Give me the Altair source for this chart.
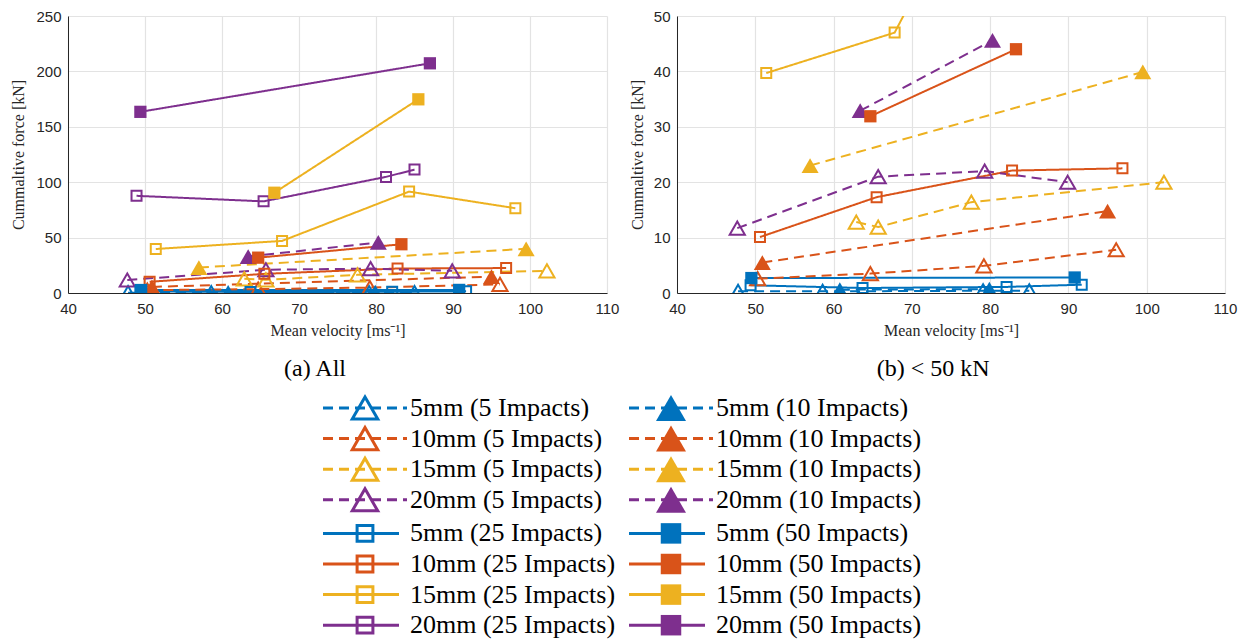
import altair as alt
import pandas as pd

# ---------------- data ----------------
sizes = ["5mm", "10mm", "15mm", "20mm"]
size_colors = ["#0072BD", "#D95319", "#EDB120", "#7E2F8E"]
impacts = ["5", "10", "25", "50"]

# mean velocity [m/s] and cumulative force [kN]
v_5mm_5 = [47.8, 58.6, 79.1, 85.0]
f_5mm_5 = [0.3, 0.3, 0.4, 0.4]
v_5mm_10 = [60.8, 79.9]
f_5mm_10 = [0.6, 0.7]
v_5mm_25 = [49.4, 63.7, 82.1, 91.7]
f_5mm_25 = [1.4, 0.9, 1.1, 1.5]
v_5mm_50 = [49.5, 90.8]
f_5mm_50 = [2.7, 2.8]

v_10mm_5 = [50.3, 64.7, 79.2, 96.1]
f_10mm_5 = [2.6, 3.5, 4.9, 7.8]
v_10mm_10 = [50.9, 95.0]
f_10mm_10 = [5.5, 14.8]
v_10mm_25 = [50.6, 65.5, 82.8, 96.9]
f_10mm_25 = [10.1, 17.3, 22.1, 22.5]
v_10mm_50 = [64.7, 83.3]
f_10mm_50 = [31.9, 44.0]

v_15mm_5 = [62.9, 65.7, 77.6, 102.2]
f_15mm_5 = [12.8, 11.9, 16.4, 20.0]
v_15mm_10 = [57.0, 99.5]
f_15mm_10 = [23.0, 39.9]
v_15mm_25 = [51.4, 67.8, 84.3, 98.1]
f_15mm_25 = [39.7, 47.0, 91.5, 76.5]
v_15mm_50 = [66.8, 85.5]
f_15mm_50 = [90.5, 174.8]

v_20mm_5 = [47.7, 65.7, 79.3, 89.9]
f_20mm_5 = [11.7, 21.0, 22.0, 20.0]
v_20mm_10 = [63.4, 80.3]
f_20mm_10 = [32.9, 45.6]
v_20mm_25 = [48.9, 65.4, 81.3, 85.0]
f_20mm_25 = [87.7, 82.7, 104.8, 111.4]
v_20mm_50 = [49.4, 87.0]
f_20mm_50 = [163.5, 207.3]

series = {
    ("5mm", "5"): (v_5mm_5, f_5mm_5), ("5mm", "10"): (v_5mm_10, f_5mm_10),
    ("5mm", "25"): (v_5mm_25, f_5mm_25), ("5mm", "50"): (v_5mm_50, f_5mm_50),
    ("10mm", "5"): (v_10mm_5, f_10mm_5), ("10mm", "10"): (v_10mm_10, f_10mm_10),
    ("10mm", "25"): (v_10mm_25, f_10mm_25), ("10mm", "50"): (v_10mm_50, f_10mm_50),
    ("15mm", "5"): (v_15mm_5, f_15mm_5), ("15mm", "10"): (v_15mm_10, f_15mm_10),
    ("15mm", "25"): (v_15mm_25, f_15mm_25), ("15mm", "50"): (v_15mm_50, f_15mm_50),
    ("20mm", "5"): (v_20mm_5, f_20mm_5), ("20mm", "10"): (v_20mm_10, f_20mm_10),
    ("20mm", "25"): (v_20mm_25, f_20mm_25), ("20mm", "50"): (v_20mm_50, f_20mm_50),
}

records = []
for (sz, imp), (vs, fs) in series.items():
    for v, f in zip(vs, fs):
        records.append({"size": sz, "impacts": imp, "series": f"{sz}-{imp}",
                        "velocity": v, "force": f})
df = pd.DataFrame(records)

# ---------------- shared encodings ----------------
color_enc = alt.Color("size:N", scale=alt.Scale(domain=sizes, range=size_colors), legend=None)
dash_enc = alt.StrokeDash("impacts:N", scale=alt.Scale(domain=impacts,
                          range=[[10, 6], [10, 6], [1, 0], [1, 0]]), legend=None)

# (impacts group, shape, filled, marker area) for plot and legend markers
marker_specs = [
    ("5", "triangle-up", False),
    ("10", "triangle-up", True),
    ("25", "square", False),
    ("50", "square", True),
]
plot_marker_size = {"5": 230, "10": 290, "25": 100, "50": 150}
legend_marker_size = {"5": 650, "10": 900, "25": 250, "50": 420}


def marker_layers(base, x, y, sizes_map, stroke_w):
    out = []
    for imp, shape, filled in marker_specs:
        m = base.transform_filter(alt.datum.impacts == imp)
        if filled:
            m = m.mark_point(shape=shape, filled=True, opacity=1, size=sizes_map[imp], clip=True)
        else:
            m = m.mark_point(shape=shape, filled=False, opacity=1, size=sizes_map[imp],
                             strokeWidth=stroke_w, clip=True)
        out.append(m.encode(x=x, y=y, color=color_enc))
    return out


def panel(ymax, ystep, width, height, caption, title_pad):
    base = alt.Chart(df)
    x = alt.X("velocity:Q", scale=alt.Scale(domain=[40, 110], nice=False, zero=False),
              axis=alt.Axis(values=list(range(40, 111, 10)), title="Mean velocity [ms⁻¹]",
                            labelPadding=8, titlePadding=6))
    y = alt.Y("force:Q", scale=alt.Scale(domain=[0, ymax], nice=False),
              axis=alt.Axis(values=list(range(0, ymax + 1, ystep)),
                            title="Cummaltive force [kN]", labelPadding=7,
                            titlePadding=title_pad))
    lines = base.mark_line(strokeWidth=2, clip=True).encode(
        x=x, y=y, color=color_enc, strokeDash=dash_enc, detail="series:N", order="velocity:Q")
    layers = [lines] + marker_layers(base, x, y, plot_marker_size, 2)
    return alt.layer(*layers).properties(
        width=width, height=height,
        title=alt.TitleParams(caption, orient="bottom", font="Liberation Serif", fontSize=24,
                              fontWeight="normal", color="black", anchor="middle",
                              frame="bounds", offset=19))


left = panel(250, 50, 539, 277, "(a) All", 9)
right = panel(50, 10, 548, 277, "(b) < 50 kN", 8)

# ---------------- legend (drawn as a chart) ----------------
leg_rows = []
for s, sz in enumerate(sizes):
    for imp in impacts:
        col = 0 if imp in ("5", "25") else 1
        r = s + (4 if imp in ("25", "50") else 0)
        yy = 25 + 30.6 * r + (3.0 if r >= 4 else 0)
        x1 = 255 if col == 0 else 561
        dashed = imp in ("5", "10")
        leg_rows.append({
            "size": sz, "impacts": imp, "label": f"{sz} ({imp} Impacts)",
            "x1": x1, "x2": x1 + (84 if dashed else 76), "xm": x1 + 42,
            "xt": x1 + 87, "y": yy,
        })
leg_df = pd.DataFrame(leg_rows)

leg_dash = alt.StrokeDash("impacts:N", scale=alt.Scale(domain=impacts,
                          range=[[9, 8], [9, 8], [1, 0], [1, 0]]), legend=None)
lb = alt.Chart(leg_df)
lx = alt.X("xm:Q", scale=None, axis=None)
ly = alt.Y("y:Q", scale=None, axis=None)
leg_lines = lb.mark_rule(strokeWidth=3).encode(
    x=alt.X("x1:Q", scale=None, axis=None), x2="x2:Q", y=ly, color=color_enc, strokeDash=leg_dash)
leg_marks = marker_layers(lb, lx, ly, legend_marker_size, 3)
leg_text = lb.mark_text(align="left", baseline="middle", font="Liberation Serif", fontSize=26,
                        color="black").encode(x=alt.X("xt:Q", scale=None, axis=None), y=ly,
                                              text="label:N")
legend = alt.layer(leg_lines, *leg_marks, leg_text).properties(width=880, height=255)

top = alt.hconcat(left, right, spacing=8)
chart = alt.vconcat(top, legend, spacing=0).properties(
    padding={"left": 10, "top": 8, "right": 5, "bottom": 0}
).configure_axis(
    labelFont="Liberation Sans", labelFontSize=15, labelColor="#262626", labelFlush=False,
    titleFont="Liberation Serif", titleFontSize=16, titleFontWeight="normal", titleColor="#262626",
    gridColor="#e3e3e3", gridWidth=1.2, domainColor="#262626", domainWidth=1,
    ticks=False, tickSize=0,
).configure_view(stroke="transparent")

chart.save("out.html", embed_options={"renderer": "svg", "actions": False})
